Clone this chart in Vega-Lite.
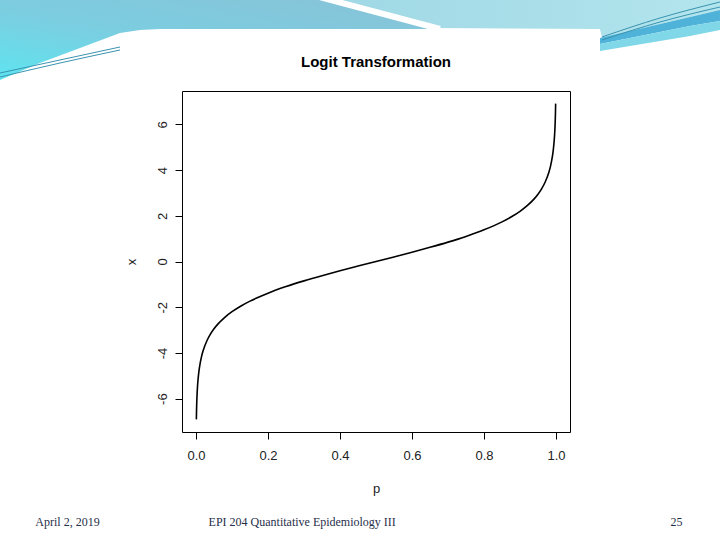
{
  "$schema": "https://vega.github.io/schema/vega-lite/v6.json",
  "width": 388,
  "height": 341,
  "autosize": {"type": "none"},
  "padding": {"top": 91, "left": 182, "right": 150, "bottom": 108},
  "background": "white",
  "config": {"view": {"stroke": "black", "strokeWidth": 1}},
  "datasets": {
    "curve": [
      {"p": 0.001, "x": -6.9068}, {"p": 0.0015, "x": -6.5008}, {"p": 0.002, "x": -6.2126},
      {"p": 0.003, "x": -5.8061}, {"p": 0.004, "x": -5.5175}, {"p": 0.005, "x": -5.2933},
      {"p": 0.0075, "x": -4.8853}, {"p": 0.01, "x": -4.5951}, {"p": 0.015, "x": -4.1846},
      {"p": 0.02, "x": -3.8918}, {"p": 0.03, "x": -3.4761}, {"p": 0.04, "x": -3.1781},
      {"p": 0.05, "x": -2.9444}, {"p": 0.06, "x": -2.7515}, {"p": 0.08, "x": -2.4423},
      {"p": 0.1, "x": -2.1972}, {"p": 0.125, "x": -1.9459}, {"p": 0.15, "x": -1.7346},
      {"p": 0.2, "x": -1.3863}, {"p": 0.25, "x": -1.0986}, {"p": 0.3, "x": -0.8473},
      {"p": 0.35, "x": -0.619}, {"p": 0.4, "x": -0.4055}, {"p": 0.45, "x": -0.2007},
      {"p": 0.5, "x": 0},
      {"p": 0.55, "x": 0.2007}, {"p": 0.6, "x": 0.4055}, {"p": 0.65, "x": 0.619},
      {"p": 0.7, "x": 0.8473}, {"p": 0.75, "x": 1.0986}, {"p": 0.8, "x": 1.3863},
      {"p": 0.85, "x": 1.7346}, {"p": 0.875, "x": 1.9459}, {"p": 0.9, "x": 2.1972},
      {"p": 0.92, "x": 2.4423}, {"p": 0.94, "x": 2.7515}, {"p": 0.95, "x": 2.9444},
      {"p": 0.96, "x": 3.1781}, {"p": 0.97, "x": 3.4761}, {"p": 0.98, "x": 3.8918},
      {"p": 0.985, "x": 4.1846}, {"p": 0.99, "x": 4.5951}, {"p": 0.9925, "x": 4.8853},
      {"p": 0.995, "x": 5.2933}, {"p": 0.996, "x": 5.5175}, {"p": 0.997, "x": 5.8061},
      {"p": 0.998, "x": 6.2126}, {"p": 0.9985, "x": 6.5008}, {"p": 0.999, "x": 6.9068}
    ],
    "texts": [
      {"label": "Logit Transformation", "p": 0.5, "x": 8.728, "kind": "title"},
      {"label": "April 2, 2019", "p": -0.357, "x": -11.4, "kind": "footer"},
      {"label": "EPI 204 Quantitative Epidemiology III", "p": 0.295, "x": -11.4, "kind": "footer"},
      {"label": "25", "p": 1.335, "x": -11.4, "kind": "footer"}
    ],
    "swooshLeft": [
      {"p": -0.5445, "t": 11.4406, "b": 7.941},
      {"p": -0.4333, "t": 11.4406, "b": 8.684},
      {"p": -0.3222, "t": 11.4406, "b": 9.341},
      {"p": -0.2111, "t": 11.4406, "b": 9.997},
      {"p": -0.1556, "t": 11.4406, "b": 10.128},
      {"p": -0.1, "t": 11.4406, "b": 10.172},
      {"p": 0.375, "t": 11.4406, "b": 10.172},
      {"p": 0.6667, "t": 10.2157, "b": 10.172}
    ],
    "swooshRight": [
      {"p": 0.375, "t": 11.4406, "b": 11.4406},
      {"p": 0.6667, "t": 11.4406, "b": 10.2157},
      {"p": 1.1222, "t": 11.4406, "b": 10.172},
      {"p": 1.1278, "t": 11.4406, "b": 9.7782},
      {"p": 1.2889, "t": 11.4406, "b": 10.3907},
      {"p": 1.4555, "t": 11.4406, "b": 11.0032}
    ],
    "bands": [
      {"p": 1.1222, "t": 9.7782, "m": 9.5157, "b": 9.2094},
      {"p": 1.2055, "t": 10.0844, "m": 9.7782, "b": 9.4282},
      {"p": 1.2889, "t": 10.3907, "m": 10.0407, "b": 9.6469},
      {"p": 1.3722, "t": 10.6969, "m": 10.3032, "b": 9.8657},
      {"p": 1.4555, "t": 11.0032, "m": 10.5219, "b": 10.1282}
    ],
    "stripe": [
      {"p": 0.2694, "x": 11.878},
      {"p": 0.6778, "x": 10.172}
    ],
    "strands": [
      {"g": "a", "p": -0.5445, "x": 8.2469}, {"g": "a", "p": -0.3778, "x": 8.8157}, {"g": "a", "p": -0.2111, "x": 9.3844},
      {"g": "b", "p": -0.5445, "x": 8.0719}, {"g": "b", "p": -0.3778, "x": 8.684}, {"g": "b", "p": -0.2111, "x": 9.2532},
      {"g": "c", "p": 1.1278, "x": 9.8219}, {"g": "c", "p": 1.2889, "x": 10.6532}, {"g": "c", "p": 1.4555, "x": 11.3532},
      {"g": "d", "p": 1.1278, "x": 9.6907}, {"g": "d", "p": 1.2889, "x": 10.4782}, {"g": "d", "p": 1.4555, "x": 11.1344}
    ]
  },
  "layer": [
    {
      "data": {"name": "swooshLeft"},
      "mark": {"type": "area", "clip": false,
        "color": {"gradient": "linear", "x1": 0, "y1": 1, "x2": 1, "y2": 0,
          "stops": [{"offset": 0, "color": "#5ee4ef"}, {"offset": 0.45, "color": "#7ccde0"}, {"offset": 1, "color": "#89c2d7"}]}},
      "encoding": {
        "x": {"field": "p", "type": "quantitative"},
        "y": {"field": "t", "type": "quantitative"},
        "y2": {"field": "b"}
      }
    },
    {
      "data": {"name": "swooshRight"},
      "mark": {"type": "area", "clip": false,
        "color": {"gradient": "linear", "x1": 0, "y1": 0, "x2": 1, "y2": 0,
          "stops": [{"offset": 0, "color": "#9fd8e5"}, {"offset": 1, "color": "#b3e5ed"}]}},
      "encoding": {
        "x": {"field": "p", "type": "quantitative"},
        "y": {"field": "t", "type": "quantitative"},
        "y2": {"field": "b"}
      }
    },
    {
      "data": {"name": "stripe"},
      "mark": {"type": "line", "clip": false, "color": "white", "strokeWidth": 6},
      "encoding": {
        "x": {"field": "p", "type": "quantitative"},
        "y": {"field": "x", "type": "quantitative"}
      }
    },
    {
      "data": {"name": "bands"},
      "mark": {"type": "area", "clip": false, "color": "#4fb2d8"},
      "encoding": {
        "x": {"field": "p", "type": "quantitative"},
        "y": {"field": "t", "type": "quantitative"},
        "y2": {"field": "m"}
      }
    },
    {
      "data": {"name": "bands"},
      "mark": {"type": "area", "clip": false, "color": "#7fd7e7"},
      "encoding": {
        "x": {"field": "p", "type": "quantitative"},
        "y": {"field": "m", "type": "quantitative"},
        "y2": {"field": "b"}
      }
    },
    {
      "data": {"name": "strands"},
      "mark": {"type": "line", "clip": false, "color": "#3a93b0", "strokeWidth": 1, "interpolate": "monotone"},
      "encoding": {
        "x": {"field": "p", "type": "quantitative"},
        "y": {"field": "x", "type": "quantitative"},
        "detail": {"field": "g"}
      }
    },
    {
      "data": {"name": "curve"},
      "mark": {"type": "line", "color": "black", "strokeWidth": 1.6, "interpolate": "monotone"},
      "encoding": {
        "x": {
          "field": "p", "type": "quantitative",
          "scale": {"domain": [-0.0389, 1.0389], "nice": false, "zero": false},
          "axis": {
            "values": [0, 0.2, 0.4, 0.6, 0.8, 1.0], "format": ".1f", "title": "p",
            "domain": false, "grid": false, "tickColor": "black", "tickSize": 7,
            "labelFont": "Liberation Sans", "labelFontSize": 13, "labelColor": "#222",
            "labelPadding": 10, "titleFont": "Liberation Sans", "titleFontSize": 13,
            "titleFontWeight": "normal", "titleColor": "#222", "titlePadding": 20
          }
        },
        "y": {
          "field": "x", "type": "quantitative",
          "scale": {"domain": [-7.4594, 7.4594], "nice": false, "zero": false},
          "axis": {
            "values": [-6, -4, -2, 0, 2, 4, 6], "title": "x",
            "labelExpr": "datum.value < 0 ? '-' + abs(datum.value) : '' + datum.value",
            "domain": false, "grid": false, "tickColor": "black", "tickSize": 7,
            "labelAngle": 270, "labelAlign": "center", "labelBaseline": "bottom",
            "labelFont": "Liberation Sans", "labelFontSize": 13, "labelColor": "#222",
            "labelPadding": 6, "titleFont": "Liberation Sans", "titleFontSize": 13,
            "titleFontWeight": "normal", "titleColor": "#222", "titlePadding": 18
          }
        }
      }
    },
    {
      "data": {"name": "texts"},
      "transform": [{"filter": "datum.kind === 'footer'"}],
      "mark": {"type": "text", "font": "Liberation Serif", "fontSize": 12, "color": "#1f2f4a", "clip": false, "align": "center", "baseline": "middle"},
      "encoding": {
        "x": {"field": "p", "type": "quantitative"},
        "y": {"field": "x", "type": "quantitative"},
        "text": {"field": "label"}
      }
    },
    {
      "data": {"name": "texts"},
      "transform": [{"filter": "datum.kind === 'title'"}],
      "mark": {"type": "text", "font": "Liberation Sans", "fontSize": 15, "fontWeight": "bold", "color": "black", "clip": false, "align": "center", "baseline": "middle"},
      "encoding": {
        "x": {"field": "p", "type": "quantitative"},
        "y": {"field": "x", "type": "quantitative"},
        "text": {"field": "label"}
      }
    }
  ]
}
